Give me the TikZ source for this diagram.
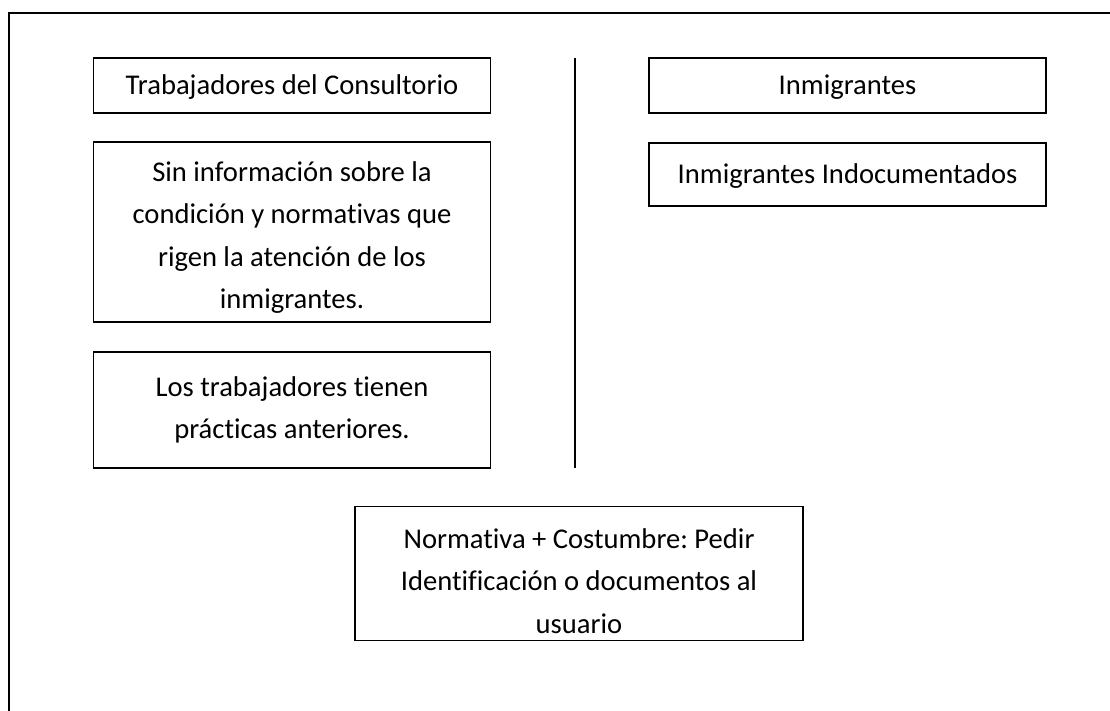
\documentclass[tikz,border=0pt]{standalone}
\usepackage{fontspec}
\setmainfont[Ligatures=NoCommon]{Carlito}
\frenchspacing
\begin{document}
\begin{tikzpicture}[x=1pt,y=-1pt,
  box/.style={draw=black, line width=1.5pt, rectangle, inner sep=0pt},
  txt/.style={inner sep=0pt, align=center,
    font=\fontsize{28.6}{42.5}\selectfont\frenchspacing},
  frame/.style={draw=black, line width=1.6pt}]
\useasboundingbox (0,0) rectangle (1110,711);
\coordinate (tr) at (1112,13);
\coordinate (tl) at (9,13);
\coordinate (bl) at (9,713);
\draw[frame] (tr) -- (tl) -- (bl);
\node[box, minimum width=397pt, minimum height=55pt] (trab) at (292,85.5) {};
\node[txt] (trabt) at ([yshift=-2pt]trab.center) {Trabajadores del Consultorio};
\node[box, minimum width=397pt, minimum height=180pt] (sin) at (292,232) {};
\node[txt] (sint) at ([yshift=-5.5pt]sin.center) {Sin información sobre la\\condición y normativas que\\rigen la atención de los\\inmigrantes.};
\node[box, minimum width=397pt, minimum height=116pt] (los) at (292,410) {};
\node[txt] (lost) at ([yshift=0pt]los.center) {Los trabajadores tienen\\prácticas anteriores.};
\node[box, minimum width=397pt, minimum height=55pt] (inm) at (847.5,85.5) {};
\node[txt] (inmt) at ([yshift=-2pt]inm.center) {Inmigrantes};
\node[box, minimum width=397pt, minimum height=63pt] (ind) at (847.5,174.5) {};
\node[txt] (indt) at ([yshift=-2pt]ind.center) {Inmigrantes Indocumentados};
\node[box, minimum width=448pt, minimum height=134pt] (norm) at (579,573.5) {};
\node[txt] (normt) at ([yshift=-7.5pt]norm.center) {Normativa + Costumbre: Pedir\\Identificación o documentos al\\usuario};
\coordinate (vt) at (575,58);
\coordinate (vb) at (575,468);
\draw[line width=1.5pt] (vt) -- (vb);
\end{tikzpicture}
\end{document}
